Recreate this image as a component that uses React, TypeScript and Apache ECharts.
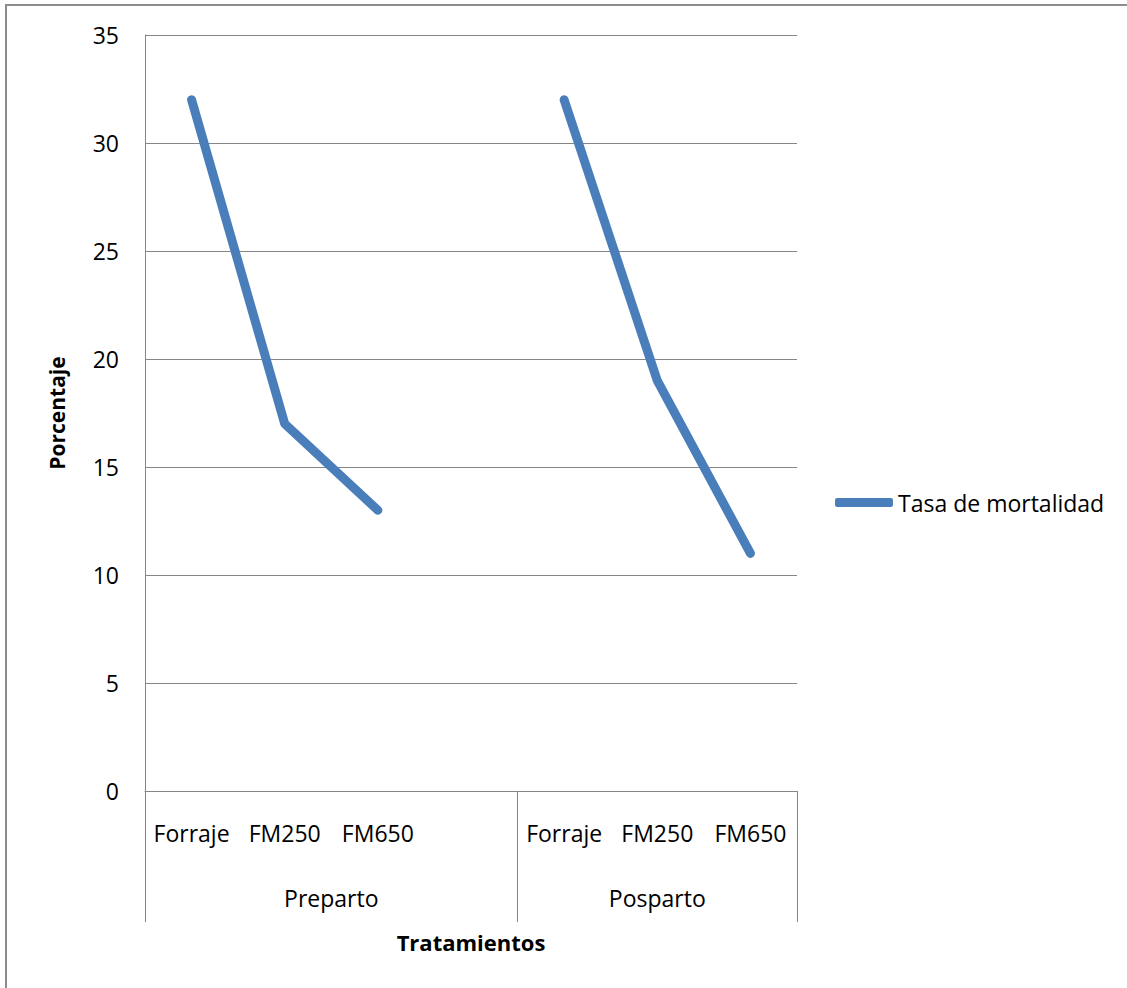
import { useEffect, useRef } from "react";
import * as echarts from "echarts";

// Treatments along the x axis; the empty slot closes the Preparto group.
const categories = ["Forraje", "FM250", "FM650", "", "Forraje", "FM250", "FM650"];
// Mortality rate (%) per treatment; null leaves the gap between the two groups.
const mortalityRate: (number | null)[] = [32, 17, 13, null, 32, 19, 11];

// Second-level (group) axis: 15 half-category slots spanning the plot.
const groupSlotCount = 15;
const groupNames = ["Preparto", "Posparto"];
const groupLabelSlots = [4, 11];
const groupBoundarySlots = [0, 8, 14];

const yMin = 0;
const yMax = 35;
const yStep = 5;

const FONT = "'Open Sans', 'Noto Sans', sans-serif";
const GRID_COLOR = "#868686";
const LINE_COLOR = "#4a7ebb";

const groupLabels: string[] = Array.from({ length: groupSlotCount }, () => "");
groupLabelSlots.forEach((slot, i) => {
  groupLabels[slot] = groupNames[i];
});

export default function App() {
  const ref = useRef<HTMLDivElement>(null);

  useEffect(() => {
    if (!ref.current) return;
    const chart = echarts.init(ref.current, null, { renderer: "svg" });
    chart.setOption({
      animation: false,
      backgroundColor: "#ffffff",
      textStyle: { fontFamily: FONT },
      graphic: [
        {
          type: "rect",
          shape: { x: 6, y: 5, width: 1300, height: 1200 },
          style: { fill: "none", stroke: "#8c8c8c", lineWidth: 2 },
          silent: true,
        },
      ],
      grid: { left: 145, right: 330, top: 35, bottom: 197 },
      legend: {
        data: ["Tasa de mortalidad"],
        left: 830,
        top: 486,
        orient: "vertical",
        icon: "roundRect",
        itemWidth: 58,
        itemHeight: 9,
        textStyle: { fontFamily: FONT, fontSize: 23, color: "#000" },
      },
      xAxis: [
        {
          type: "category",
          data: categories,
          boundaryGap: true,
          axisLine: { show: true, lineStyle: { color: GRID_COLOR, width: 1 } },
          axisTick: { show: false },
          splitLine: { show: false },
          axisLabel: {
            interval: 0,
            margin: 30,
            fontFamily: FONT,
            fontSize: 23,
            color: "#000",
          },
        },
        {
          type: "category",
          data: groupLabels,
          boundaryGap: false,
          position: "bottom",
          axisLine: { show: false },
          axisTick: {
            show: true,
            length: 131,
            interval: (index: number) => groupBoundarySlots.includes(index),
            lineStyle: { color: GRID_COLOR, width: 1 },
          },
          axisLabel: {
            interval: (index: number) => groupLabelSlots.includes(index),
            margin: 95,
            fontFamily: FONT,
            fontSize: 23,
            color: "#000",
          },
          splitLine: { show: false },
          name: "Tratamientos",
          nameLocation: "middle",
          nameGap: 140,
          nameTextStyle: {
            fontFamily: FONT,
            fontSize: 22,
            fontWeight: "bold",
            color: "#000",
          },
        },
      ],
      yAxis: {
        type: "value",
        min: yMin,
        max: yMax,
        interval: yStep,
        axisLine: { show: true, lineStyle: { color: GRID_COLOR, width: 1 } },
        axisTick: { show: false },
        splitLine: { show: true, lineStyle: { color: GRID_COLOR, width: 1 } },
        axisLabel: {
          margin: 26,
          fontFamily: FONT,
          fontSize: 23,
          color: "#000",
        },
        name: "Porcentaje",
        nameLocation: "middle",
        nameGap: 78,
        nameTextStyle: {
          fontFamily: FONT,
          fontSize: 21,
          fontWeight: "bold",
          color: "#000",
        },
      },
      series: [
        {
          name: "Tasa de mortalidad",
          type: "line",
          xAxisIndex: 0,
          data: mortalityRate,
          connectNulls: false,
          symbol: "none",
          showSymbol: false,
          itemStyle: { color: LINE_COLOR },
          lineStyle: { color: LINE_COLOR, width: 9, cap: "round", join: "round" },
        },
      ],
    });
    return () => chart.dispose();
  }, []);

  return (
    <div
      ref={ref}
      style={{
        position: "absolute",
        left: 0,
        top: 0,
        width: 1127,
        height: 988,
        background: "#fff",
      }}
    />
  );
}
